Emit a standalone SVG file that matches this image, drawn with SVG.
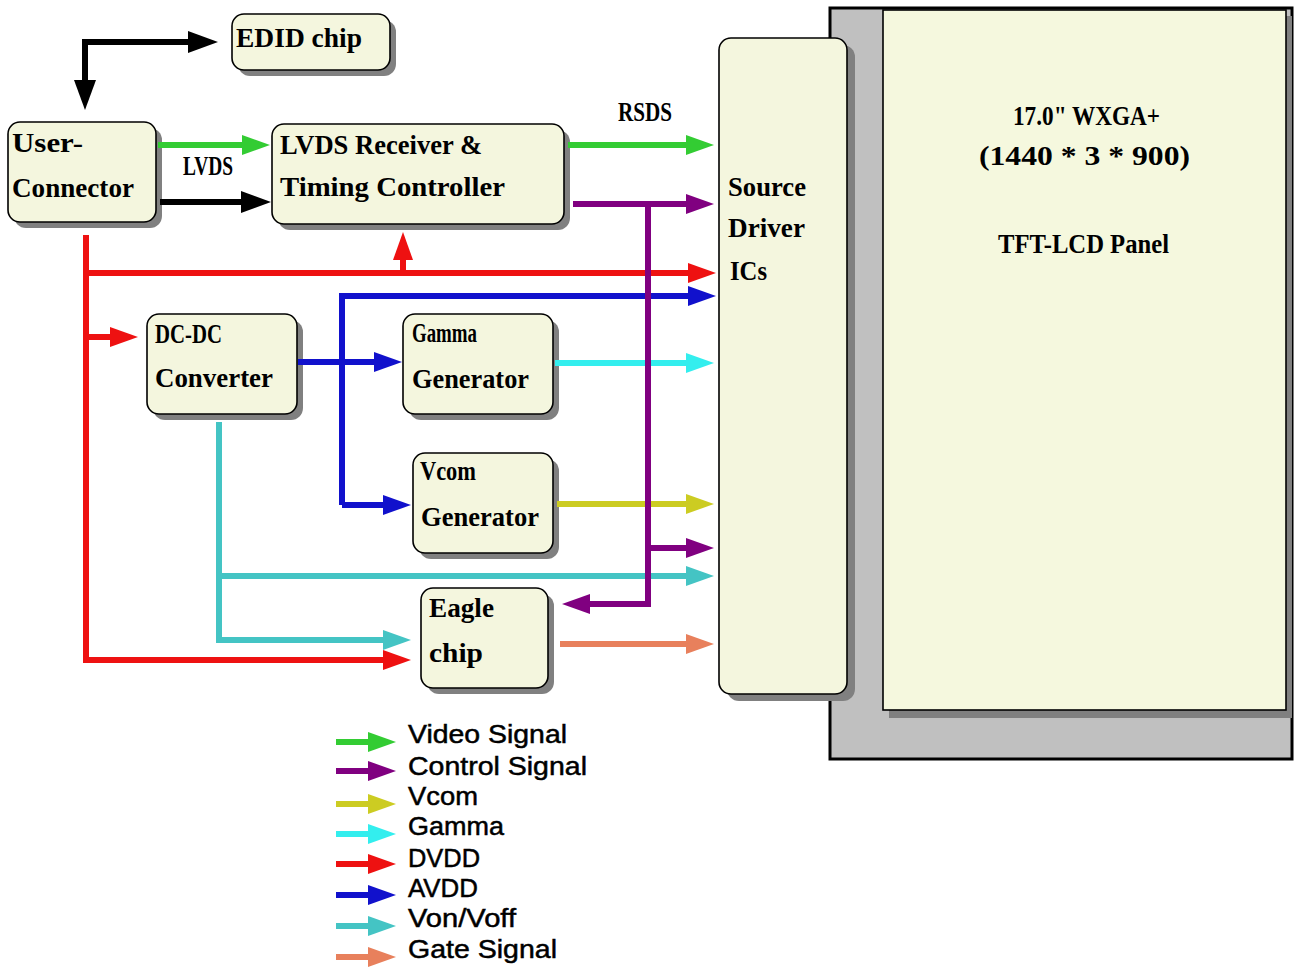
<svg xmlns="http://www.w3.org/2000/svg" width="1294" height="968" viewBox="0 0 1294 968">
<style>
.box{fill:#f4f6de;stroke:#000;stroke-width:1.6}
.sh{fill:#808080}
.bt{font-family:"Liberation Serif","DejaVu Serif",serif;font-weight:bold;font-size:27px;fill:#000}
.lg{font-family:"Liberation Sans",Arial,sans-serif;font-size:26px;fill:#000;stroke:#000;stroke-width:0.5}
.c{fill:none;stroke-width:6}
</style>
<defs>
<marker id="aK" viewBox="0 0 30 22" refX="15" refY="11" markerWidth="30" markerHeight="22" markerUnits="userSpaceOnUse" orient="auto-start-reverse"><path d="M0,0 L30,11 L0,22 z" fill="#000"/></marker>
<marker id="aG" viewBox="0 0 28 20" refX="14" refY="10" markerWidth="28" markerHeight="20" markerUnits="userSpaceOnUse" orient="auto"><path d="M0,0 L28,10 L0,20 z" fill="#33cc33"/></marker>
<marker id="aP" viewBox="0 0 28 20" refX="14" refY="10" markerWidth="28" markerHeight="20" markerUnits="userSpaceOnUse" orient="auto"><path d="M0,0 L28,10 L0,20 z" fill="#800080"/></marker>
<marker id="aR" viewBox="0 0 28 20" refX="14" refY="10" markerWidth="28" markerHeight="20" markerUnits="userSpaceOnUse" orient="auto"><path d="M0,0 L28,10 L0,20 z" fill="#ee1111"/></marker>
<marker id="aB" viewBox="0 0 28 20" refX="14" refY="10" markerWidth="28" markerHeight="20" markerUnits="userSpaceOnUse" orient="auto"><path d="M0,0 L28,10 L0,20 z" fill="#1111cc"/></marker>
<marker id="aC" viewBox="0 0 28 20" refX="14" refY="10" markerWidth="28" markerHeight="20" markerUnits="userSpaceOnUse" orient="auto"><path d="M0,0 L28,10 L0,20 z" fill="#33eeee"/></marker>
<marker id="aY" viewBox="0 0 28 20" refX="14" refY="10" markerWidth="28" markerHeight="20" markerUnits="userSpaceOnUse" orient="auto"><path d="M0,0 L28,10 L0,20 z" fill="#cccc22"/></marker>
<marker id="aT" viewBox="0 0 28 20" refX="14" refY="10" markerWidth="28" markerHeight="20" markerUnits="userSpaceOnUse" orient="auto"><path d="M0,0 L28,10 L0,20 z" fill="#44c4c4"/></marker>
<marker id="aS" viewBox="0 0 28 20" refX="14" refY="10" markerWidth="28" markerHeight="20" markerUnits="userSpaceOnUse" orient="auto"><path d="M0,0 L28,10 L0,20 z" fill="#e8805c"/></marker>
</defs>

<g id="panel">
<rect x="830" y="8" width="462" height="751" fill="#c0c0c0" stroke="#000" stroke-width="3"/>
<rect x="889" y="16" width="403" height="702" class="sh"/>
<rect x="883" y="10" width="403" height="700" fill="#f5f8de" stroke="#000" stroke-width="1.6"/>
<text class="bt" x="1013" y="125" textLength="147" lengthAdjust="spacingAndGlyphs">17.0" WXGA+</text>
<text class="bt" x="979" y="165" textLength="211" lengthAdjust="spacingAndGlyphs">(1440 * 3 * 900)</text>
<text class="bt" x="998" y="253" textLength="171" lengthAdjust="spacingAndGlyphs">TFT-LCD Panel</text>
</g>

<g id="source-driver">
<rect x="727" y="45" width="128" height="656" rx="12" class="sh"/>
<rect x="719" y="38" width="128" height="656" rx="12" class="box"/>
<text class="bt" x="728" y="196" textLength="78" lengthAdjust="spacingAndGlyphs">Source</text>
<text class="bt" x="728" y="237" textLength="77" lengthAdjust="spacingAndGlyphs">Driver</text>
<text class="bt" x="730" y="280" textLength="37" lengthAdjust="spacingAndGlyphs">ICs</text>
</g>

<g id="edid">
<rect x="238" y="20" width="158" height="56" rx="12" class="sh"/>
<rect x="232" y="14" width="158" height="56" rx="12" class="box"/>
<text class="bt" x="236" y="47" textLength="126" lengthAdjust="spacingAndGlyphs">EDID chip</text>
</g>

<g id="user-connector">
<rect x="14" y="128" width="148" height="100" rx="12" class="sh"/>
<rect x="8" y="122" width="148" height="100" rx="12" class="box"/>
<text class="bt" x="12" y="152" textLength="71" lengthAdjust="spacingAndGlyphs">User-</text>
<text class="bt" x="12" y="197" textLength="122" lengthAdjust="spacingAndGlyphs">Connector</text>
</g>

<g id="lvds-receiver">
<rect x="278" y="130" width="292" height="100" rx="12" class="sh"/>
<rect x="272" y="124" width="292" height="100" rx="12" class="box"/>
<text class="bt" x="280" y="154" textLength="202" lengthAdjust="spacingAndGlyphs">LVDS Receiver &amp;</text>
<text class="bt" x="280" y="196" textLength="225" lengthAdjust="spacingAndGlyphs">Timing Controller</text>
</g>

<g id="dcdc">
<rect x="153" y="320" width="150" height="100" rx="12" class="sh"/>
<rect x="147" y="314" width="150" height="100" rx="12" class="box"/>
<text class="bt" x="155" y="343" textLength="67" lengthAdjust="spacingAndGlyphs">DC-DC</text>
<text class="bt" x="155" y="387" textLength="118" lengthAdjust="spacingAndGlyphs">Converter</text>
</g>

<g id="gamma">
<rect x="409" y="320" width="150" height="100" rx="12" class="sh"/>
<rect x="403" y="314" width="150" height="100" rx="12" class="box"/>
<text class="bt" x="412" y="342" textLength="65" lengthAdjust="spacingAndGlyphs">Gamma</text>
<text class="bt" x="412" y="388" textLength="117" lengthAdjust="spacingAndGlyphs">Generator</text>
</g>

<g id="vcom">
<rect x="419" y="459" width="140" height="100" rx="12" class="sh"/>
<rect x="413" y="453" width="140" height="100" rx="12" class="box"/>
<text class="bt" x="420" y="480" textLength="56" lengthAdjust="spacingAndGlyphs">Vcom</text>
<text class="bt" x="421" y="526" textLength="118" lengthAdjust="spacingAndGlyphs">Generator</text>
</g>

<g id="eagle">
<rect x="427" y="594" width="127" height="100" rx="12" class="sh"/>
<rect x="421" y="588" width="127" height="100" rx="12" class="box"/>
<text class="bt" x="429" y="617" textLength="65" lengthAdjust="spacingAndGlyphs">Eagle</text>
<text class="bt" x="429" y="662" textLength="54" lengthAdjust="spacingAndGlyphs">chip</text>
</g>

<g id="connectors">
<path class="c" stroke="#000" d="M85,95 V42 H203" marker-start="url(#aK)" marker-end="url(#aK)"/>
<path class="c" stroke="#33cc33" d="M158,145 H256" marker-end="url(#aG)"/>
<path class="c" stroke="#000" d="M160,202 H256" marker-end="url(#aK)"/>
<path class="c" stroke="#33cc33" d="M568,145 H700" marker-end="url(#aG)"/>
<path class="c" stroke="#ee1111" d="M86,235 V660 H397" marker-end="url(#aR)"/>
<path class="c" stroke="#ee1111" d="M86,273 H702" marker-end="url(#aR)"/>
<path class="c" stroke="#ee1111" d="M403,273 V246" marker-end="url(#aR)"/>
<path class="c" stroke="#ee1111" d="M86,337 H124" marker-end="url(#aR)"/>
<path class="c" stroke="#1111cc" d="M298,362 H388" marker-end="url(#aB)"/>
<path class="c" stroke="#1111cc" d="M342,505 V296 H702" marker-end="url(#aB)"/>
<path class="c" stroke="#1111cc" d="M342,505 H397" marker-end="url(#aB)"/>
<path class="c" stroke="#44c4c4" d="M219,422 V640 H397" marker-end="url(#aT)"/>
<path class="c" stroke="#44c4c4" d="M219,576 H700" marker-end="url(#aT)"/>
<path class="c" stroke="#33eeee" d="M555,363 H700" marker-end="url(#aC)"/>
<path class="c" stroke="#cccc22" d="M557,504 H700" marker-end="url(#aY)"/>
<path class="c" stroke="#e8805c" d="M560,644 H700" marker-end="url(#aS)"/>
<path class="c" stroke="#800080" d="M573,204 H700" marker-end="url(#aP)"/>
<path class="c" stroke="#800080" d="M648,204 V604 H576" marker-end="url(#aP)"/>
<path class="c" stroke="#800080" d="M648,548 H700" marker-end="url(#aP)"/>
<text class="bt" x="183" y="175" textLength="50" lengthAdjust="spacingAndGlyphs">LVDS</text>
<text class="bt" x="618" y="121" textLength="54" lengthAdjust="spacingAndGlyphs">RSDS</text>
</g>

<g id="legend">
<path class="c" stroke="#33cc33" d="M336,742 H382" marker-end="url(#aG)"/>
<path class="c" stroke="#800080" d="M336,771 H382" marker-end="url(#aP)"/>
<path class="c" stroke="#cccc22" d="M336,804 H382" marker-end="url(#aY)"/>
<path class="c" stroke="#33eeee" d="M336,834 H382" marker-end="url(#aC)"/>
<path class="c" stroke="#ee1111" d="M336,864 H382" marker-end="url(#aR)"/>
<path class="c" stroke="#1111cc" d="M336,895 H382" marker-end="url(#aB)"/>
<path class="c" stroke="#44c4c4" d="M336,926 H382" marker-end="url(#aT)"/>
<path class="c" stroke="#e8805c" d="M336,957 H382" marker-end="url(#aS)"/>
<text class="lg" x="408" y="743" textLength="159" lengthAdjust="spacingAndGlyphs">Video Signal</text>
<text class="lg" x="408" y="775" textLength="179" lengthAdjust="spacingAndGlyphs">Control Signal</text>
<text class="lg" x="408" y="805" textLength="70" lengthAdjust="spacingAndGlyphs">Vcom</text>
<text class="lg" x="408" y="835" textLength="96" lengthAdjust="spacingAndGlyphs">Gamma</text>
<text class="lg" x="408" y="867" textLength="72" lengthAdjust="spacingAndGlyphs">DVDD</text>
<text class="lg" x="408" y="897" textLength="70" lengthAdjust="spacingAndGlyphs">AVDD</text>
<text class="lg" x="408" y="927" textLength="108" lengthAdjust="spacingAndGlyphs">Von/Voff</text>
<text class="lg" x="408" y="958" textLength="149" lengthAdjust="spacingAndGlyphs">Gate Signal</text>
</g>
</svg>
